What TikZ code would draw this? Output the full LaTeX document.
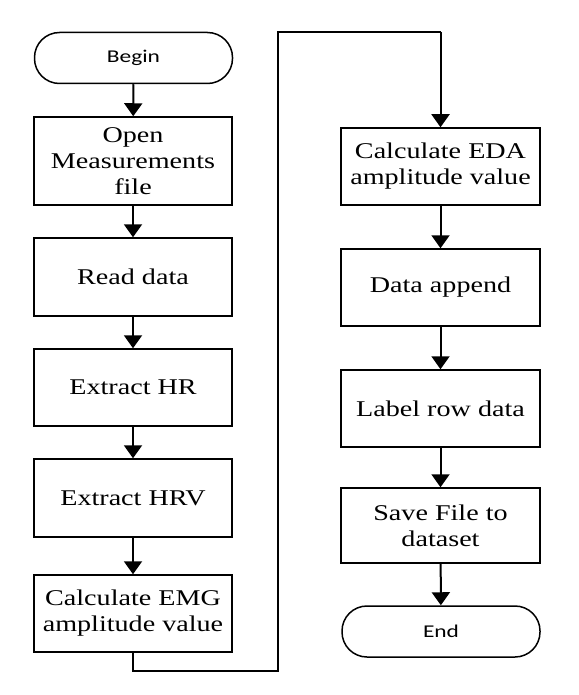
\documentclass[tikz,border=0pt]{standalone}
\usepackage{fontspec}
\usetikzlibrary{arrows.meta}
\newfontfamily\boxfont[FakeStretch=1.25]{Liberation Serif}
\newfontfamily\termfont[FakeStretch=1.3]{Carlito}
\begin{document}
\begin{tikzpicture}[x=1pt,y=-1pt,
  procbox/.style={draw=black, line width=1.5pt, inner sep=0pt, align=center,
    minimum width=198pt, font=\boxfont\fontsize{22.5}{26}\selectfont},
  termbox/.style={draw=black, line width=1.5pt, inner sep=0pt, rounded corners=25pt,
    minimum width=198pt, minimum height=51pt, font=\termfont\fontsize{18}{21}\selectfont},
  flow/.style={line width=2pt, -{Triangle[width=18pt,length=13pt]}},
  link/.style={line width=2pt}]
\useasboundingbox (0,0) rectangle (578,695);
\node[termbox] (begin) at (133.5,58) {Begin};
\node[procbox, minimum height=88pt] (open) at (133,161) {Open\\Measurements\\file};
\node[procbox, minimum height=78pt] (read) at (133,277) {Read data};
\node[procbox, minimum height=77pt] (hr) at (133,387.5) {Extract HR};
\node[procbox, minimum height=78pt] (hrv) at (133,498) {Extract HRV};
\node[procbox, minimum height=77pt] (emg) at (133,613.5) {Calculate EMG\\amplitude value};
\node[procbox, minimum height=77pt, minimum width=199pt] (eda) at (440.5,166.5) {Calculate EDA\\amplitude value};
\node[procbox, minimum height=77pt, minimum width=199pt] (append) at (440.5,287.5) {Data append};
\node[procbox, minimum height=77pt, minimum width=199pt] (label) at (440.5,408.5) {Label row data};
\node[procbox, minimum height=75pt, minimum width=199pt] (save) at (440.5,525.5) {Save File to\\dataset};
\node[termbox] (end) at (441,631.5) {End};
\coordinate (c1) at (133,671);
\coordinate (c2) at (278,671);
\coordinate (c3) at (278,32);
\coordinate (c4) at (440.5,32);
\draw[flow] (begin) -- (open);
\draw[flow] (open) -- (read);
\draw[flow] (read) -- (hr);
\draw[flow] (hr) -- (hrv);
\draw[flow] (hrv) -- (emg);
\draw[link] (emg.south) -- (c1) -- (c2) -- (c3) -- (c4);
\draw[flow] (c4) -- (eda.north);
\draw[flow] (eda) -- (append);
\draw[flow] (append) -- (label);
\draw[flow] (label) -- (save);
\draw[flow] (save) -- (end);
\end{tikzpicture}
\end{document}
